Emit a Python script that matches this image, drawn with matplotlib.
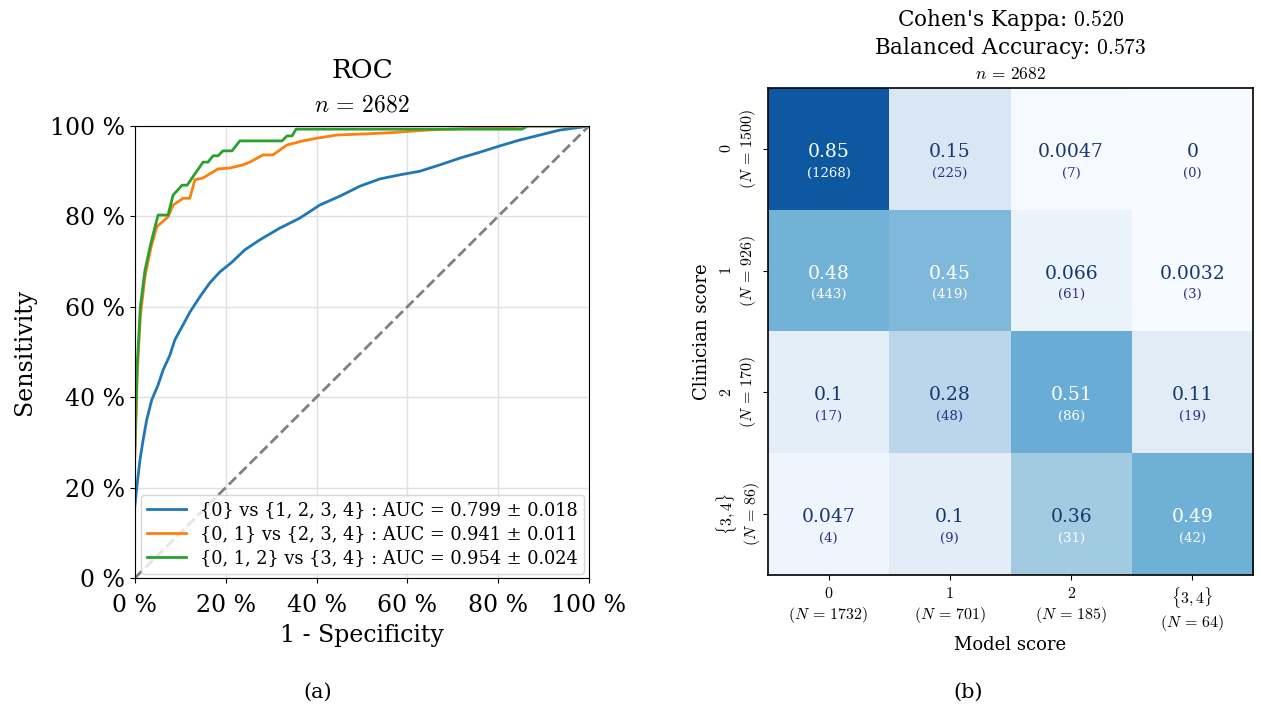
import numpy as np
import matplotlib
matplotlib.use("Agg")
import matplotlib.pyplot as plt

plt.rcParams['font.family'] = ['DejaVu Serif']
plt.rcParams['mathtext.fontset'] = 'cm'

# ROC curves, fpr / tpr in %
fpr_0 = [0, 0.4, 1.1, 1.8, 2.6, 3.7, 5.1, 6.2, 7.7, 8.8, 10.6, 12.1, 14.3, 16.5, 18.7,
         21.4, 24.2, 27.5, 31.9, 36.3, 40.7, 45.2, 49.6, 54, 58.4, 62.8, 67.2, 71.6,
         76, 80.4, 84.8, 89.2, 93.6, 98.7, 100]
tpr_0 = [16, 20, 26, 30.5, 35, 39.4, 42.7, 46, 49.3, 52.7, 56, 58.8, 62.2, 65.3, 67.7,
         69.9, 72.6, 74.8, 77.4, 79.6, 82.5, 84.5, 86.7, 88.3, 89.2, 90, 91.4, 92.9,
         94.2, 95.6, 96.9, 98, 99.1, 99.8, 100]

fpr_1 = [0, 0.5, 1.2, 2.2, 3.5, 4.8, 7.3, 8.4, 10.6, 12.1, 13.2, 15, 18.3, 20.9, 23.8,
         25.3, 28.2, 30.4, 33.5, 37, 40.1, 44.5, 51.8, 56.2, 64.3, 82.6, 86, 100]
tpr_1 = [27, 45, 58, 66.6, 73, 77.7, 79.9, 82.5, 84, 84, 88.1, 88.5, 90.5, 90.7, 91.4,
         92, 93.6, 93.6, 95.8, 96.7, 97.3, 98, 98.3, 98.5, 99.1, 99.8, 100, 100]

fpr_2 = [0, 0.5, 1.2, 2.2, 3.5, 5.1, 7.3, 8.4, 10.4, 11.5, 15, 16.1, 17.2, 18.3, 19.4,
         21.4, 23.1, 32.4, 33.5, 34.6, 35.5, 85.2, 86.5, 100]
tpr_2 = [29, 47, 60, 68, 74, 80.3, 80.3, 84.7, 86.9, 86.9, 92, 92, 93.4, 93.4, 94.5,
         94.5, 96.7, 96.7, 97.8, 97.8, 99.3, 99.3, 100, 100]

roc_labels = ['{0} vs {1, 2, 3, 4} : AUC = 0.799 ± 0.018',
              '{0, 1} vs {2, 3, 4} : AUC = 0.941 ± 0.011',
              '{0, 1, 2} vs {3, 4} : AUC = 0.954 ± 0.024']

# confusion matrix counts (rows: clinician, cols: model)
counts = np.array([[1268, 225, 7, 0],
                   [443, 419, 61, 3],
                   [17, 48, 86, 19],
                   [4, 9, 31, 42]])
classes = ['0', '1', '2', r'\{3,4\}']
kappa = 0.520
bal_acc = 0.573
n_total = 2682

fig = plt.figure(figsize=(12.61, 7.15), dpi=100)

# ---- ROC panel ----
ax = fig.add_axes([0.107, 0.1916, 0.360, 0.6322])
colors = ['#1f77b4', '#ff7f0e', '#2ca02c']
for x, y, c, lab in zip([fpr_0, fpr_1, fpr_2], [tpr_0, tpr_1, tpr_2], colors, roc_labels):
    ax.plot(np.array(x) / 100, np.array(y) / 100, color=c, lw=2, label=lab)
ax.plot([0, 1], [0, 1], '--', color='gray', lw=2)
ax.set_xlim(0, 1)
ax.set_ylim(0, 1)
ticks = np.linspace(0, 1, 6)
ax.set_xticks(ticks)
ax.set_yticks(ticks)
ax.set_xticklabels(['%d %%' % (t * 100) for t in ticks], fontsize=17)
ax.set_yticklabels(['%d %%' % (t * 100) for t in ticks], fontsize=17)
ax.tick_params(axis='x', pad=8)
ax.grid(True, color='#e0e0e0', lw=1)
ax.set_axisbelow(True)
ax.set_xlabel('1 - Specificity', fontsize=17, labelpad=5)
ax.set_ylabel('Sensitivity', fontsize=17, labelpad=10)
ax.text(0.5, 1.095, 'ROC', transform=ax.transAxes, ha='center', va='bottom', fontsize=19)
ax.text(0.5, 1.02, r'$n\,=\,%d$' % n_total, transform=ax.transAxes, ha='center',
        va='bottom', fontsize=17)
ax.legend(loc='lower right', fontsize=12.8, handlelength=2.2, borderaxespad=0.25,
          labelspacing=0.35, borderpad=0.35)

# ---- confusion matrix panel ----
ax2 = fig.add_axes([0.609, 0.196, 0.3847, 0.681])
frac = counts / counts.sum(axis=1, keepdims=True)
ax2.imshow(frac, cmap='Blues', vmin=0, vmax=1, aspect='auto')
for i in range(4):
    for j in range(4):
        f = frac[i, j]
        c1 = 'white' if f > 0.4 else '#16386f'
        c2 = 'white' if f > 0.3 else '#2a2f88'
        ax2.text(j, i + 0.025, '{:.2g}'.format(f), ha='center', va='center',
                 fontsize=13.5, color=c1)
        ax2.text(j, i + 0.2, '(%d)' % counts[i, j], ha='center', va='center',
                 fontsize=9.5, color=c2)
ax2.set_xticks(range(4))
ax2.set_yticks(range(4))
ax2.set_xticklabels([r'$%s$' '\n' r'$(N\,=\,%d)$' % (c, s)
                     for c, s in zip(classes, counts.sum(axis=0))], fontsize=11.5,
                    linespacing=1.25)
ax2.set_yticklabels([r'$%s$' '\n' r'$(N\,=\,%d)$' % (c, s)
                     for c, s in zip(classes, counts.sum(axis=1))], fontsize=11.5,
                    rotation=90, va='center', ha='center', multialignment='center',
                    linespacing=1.25)
ax2.tick_params(axis='y', pad=18)
ax2.set_xlabel('Model score', fontsize=13, labelpad=2)
ax2.set_ylabel('Clinician score', fontsize=13, labelpad=2)
for s in ax2.spines.values():
    s.set_linewidth(1.2)
ax2.text(0.5, 1.113, "Cohen's Kappa: " + r'$%.3f$' % kappa, transform=ax2.transAxes,
         ha='center', va='bottom', fontsize=15.5)
ax2.text(0.5, 1.055, 'Balanced Accuracy: ' + r'$%.3f$' % bal_acc, transform=ax2.transAxes,
         ha='center', va='bottom', fontsize=15.5)
ax2.text(0.5, 1.01, r'$n\,=\,%d$' % n_total, transform=ax2.transAxes,
         ha='center', va='bottom', fontsize=12.5)

fig.text(318 / 1261, 1 - 692 / 715, '(a)', ha='center', va='center', fontsize=15)
fig.text(968 / 1261, 1 - 692 / 715, '(b)', ha='center', va='center', fontsize=15)

fig.savefig('out.png', dpi=100)
